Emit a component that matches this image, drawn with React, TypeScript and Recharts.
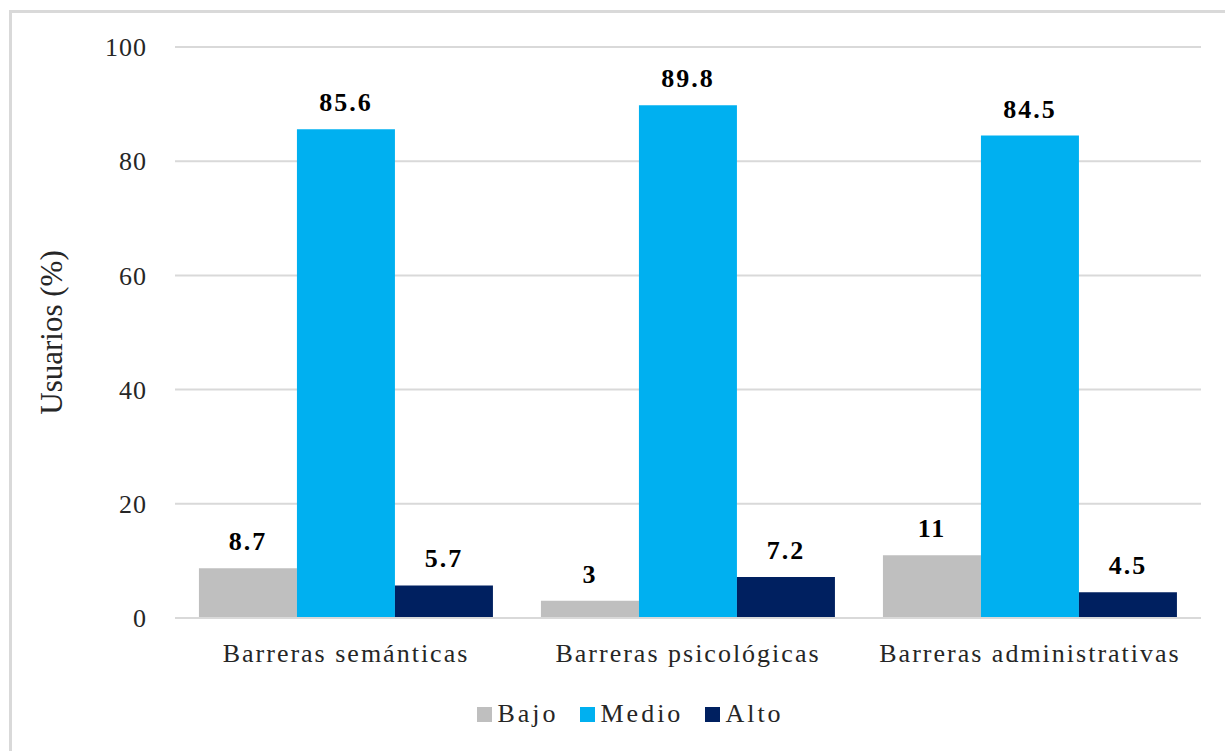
import React from 'react';
import { BarChart, Bar, XAxis, YAxis, CartesianGrid, Legend, LabelList } from 'recharts';

// 카테고리와 시리즈 값
const categories = ['Barreras semánticas', 'Barreras psicológicas', 'Barreras administrativas'];
const bajo = [8.7, 3, 11];
const medio = [85.6, 89.8, 84.5];
const alto = [5.7, 7.2, 4.5];
const yTicks = [0, 20, 40, 60, 80, 100];

const SERIES = [
  { key: 'Bajo', color: '#bfbfbf' },
  { key: 'Medio', color: '#00b0f0' },
  { key: 'Alto', color: '#002060' },
];

const FONT = "'Liberation Serif', 'DejaVu Serif', serif";

const data = categories.map((name, i) => ({
  name,
  Bajo: bajo[i],
  Medio: medio[i],
  Alto: alto[i],
}));

// 범례: 작은 사각형 + 텍스트
function LegendContent() {
  return (
    <div style={{ display: 'flex', justifyContent: 'center', paddingTop: 26, paddingLeft: 60, fontFamily: FONT, fontSize: 26, color: '#262626' }}>
      {SERIES.map(s => (
        <div key={s.key} style={{ display: 'flex', alignItems: 'center', margin: '0 11px' }}>
          <span style={{ width: 15, height: 15, background: s.color, display: 'inline-block', marginRight: 5 }} />
          <span style={{ letterSpacing: 3 }}>{s.key}</span>
        </div>
      ))}
    </div>
  );
}

export default function App() {
  return (
    <div style={{ position: 'absolute', left: 0, top: 0, width: 1225, height: 751, background: '#fff', fontFamily: FONT }}>
      <div style={{ position: 'absolute', left: 9, top: 10, right: 0, bottom: 0, borderLeft: '3px solid #d9d9d9', borderTop: '3px solid #d9d9d9' }} />
      <BarChart
        width={1225}
        height={751}
        data={data}
        margin={{ top: 47, right: 24, left: 0, bottom: 10 }}
        barGap={0}
        barCategoryGap="7%"
        style={{ position: 'absolute', left: 0, top: 0, fontFamily: FONT }}
      >
        <CartesianGrid vertical={false} stroke="#d9d9d9" strokeWidth={2} />
        <XAxis
          dataKey="name"
          axisLine={{ stroke: '#d9d9d9', strokeWidth: 2 }}
          tickLine={false}
          height={55}
          tickMargin={20}
          tick={{ fontFamily: FONT, fontSize: 26, fill: '#262626', letterSpacing: 2 }}
        />
        <YAxis
          width={175}
          domain={[0, 100]}
          ticks={yTicks}
          axisLine={false}
          tickLine={false}
          tickSize={0}
          tickMargin={28}
          tick={{ fontFamily: FONT, fontSize: 26, fill: '#262626', letterSpacing: 1 }}
          label={{
            content: ({ viewBox }: any) => (
              <text
                x={viewBox.x + 51}
                y={viewBox.y + viewBox.height / 2}
                transform={`rotate(-90 ${viewBox.x + 51} ${viewBox.y + viewBox.height / 2})`}
                textAnchor="middle"
                dominantBaseline="central"
                fontFamily={FONT}
                fontSize={31}
                fill="#262626"
              >
                Usuarios (%)
              </text>
            ),
          }}
        />
        <Legend verticalAlign="bottom" height={68} content={<LegendContent />} />
        {SERIES.map(s => (
          <Bar key={s.key} dataKey={s.key} fill={s.color} isAnimationActive={false}>
            <LabelList
              dataKey={s.key}
              position="top"
              offset={18}
              style={{ fontFamily: FONT, fontSize: 26, fontWeight: 'bold', fill: '#000', letterSpacing: 2 }}
            />
          </Bar>
        ))}
      </BarChart>
    </div>
  );
}
